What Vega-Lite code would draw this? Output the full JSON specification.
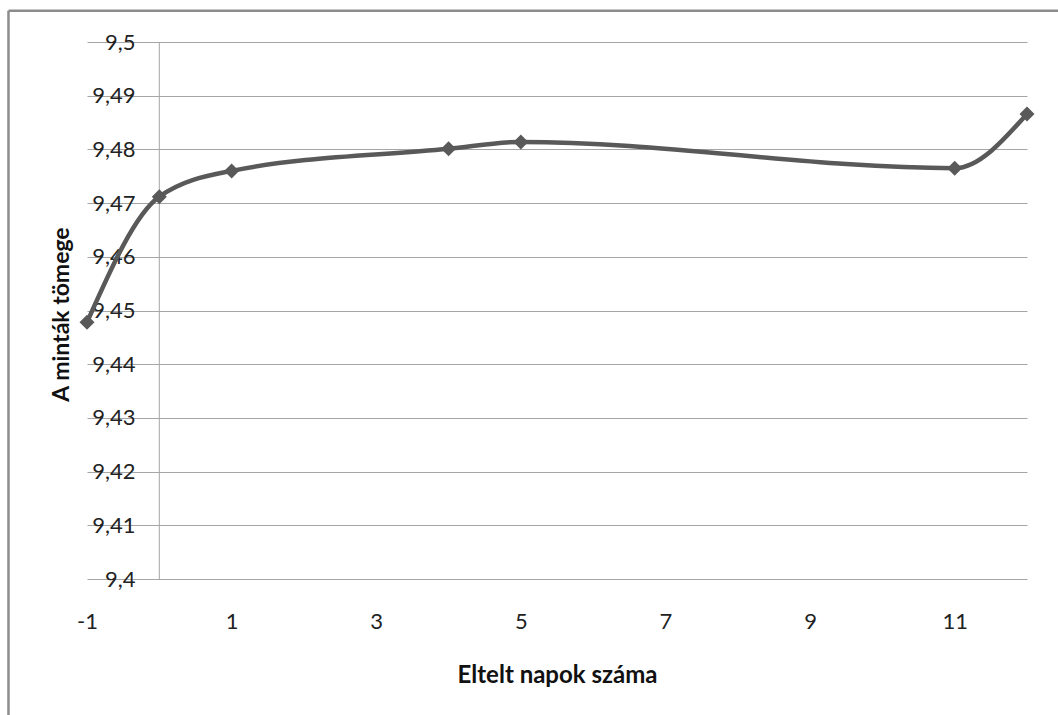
{
  "$schema": "https://vega.github.io/schema/vega-lite/v6.json",
  "width": 940,
  "height": 537,
  "autosize": {"type": "none"},
  "padding": {"left": 87, "top": 42, "right": 31, "bottom": 136},
  "background": "white",
  "config": {
    "locale": {
      "number": {"decimal": ",", "thousands": " ", "grouping": [3], "currency": ["", " Ft"], "minus": "-"}
    },
    "view": {"stroke": null},
    "font": "Lato",
    "axis": {
      "labelColor": "#222222",
      "labelFontSize": 22,
      "labelFont": "Lato",
      "titleColor": "#111111",
      "titleFont": "Lato",
      "titleFontSize": 24,
      "titleFontWeight": "bold",
      "gridColor": "#a6a6a6",
      "gridWidth": 1,
      "gridOpacity": 1,
      "domain": false,
      "ticks": false,
      "tickSize": 0,
      "labelFlush": false
    }
  },
  "data": {
    "values": [
      {"nap": -1, "tomeg": 9.4478},
      {"nap": 0, "tomeg": 9.4712},
      {"nap": 1, "tomeg": 9.4760},
      {"nap": 4, "tomeg": 9.4801},
      {"nap": 5, "tomeg": 9.4814},
      {"nap": 11, "tomeg": 9.4765},
      {"nap": 12, "tomeg": 9.4866}
    ]
  },
  "layer": [
    {
      "data": {"values": [{}]},
      "mark": {"type": "rule", "color": "#8c8c8c", "strokeWidth": 2.5},
      "encoding": {
        "x": {"datum": -2.086, "type": "quantitative"},
        "x2": {"datum": 12.6},
        "y": {"datum": 9.50583, "type": "quantitative"}
      }
    },
    {
      "data": {"values": [{}]},
      "mark": {"type": "rule", "color": "#8c8c8c", "strokeWidth": 2.5},
      "encoding": {
        "x": {"datum": -2.086, "type": "quantitative"},
        "y": {"datum": 9.50583, "type": "quantitative"},
        "y2": {"datum": 9.37}
      }
    },
    {
      "data": {"values": [{}]},
      "mark": {"type": "rule", "color": "#a6a6a6", "strokeWidth": 1},
      "encoding": {
        "x": {"datum": 0, "type": "quantitative"}
      }
    },
    {
      "mark": {
        "type": "line",
        "interpolate": "monotone",
        "color": "#595959",
        "strokeWidth": 4.5
      },
      "encoding": {
        "x": {
          "field": "nap",
          "type": "quantitative",
          "scale": {"domain": [-1, 12], "nice": false, "zero": false},
          "axis": {
            "values": [-1, 1, 3, 5, 7, 9, 11],
            "format": "d",
            "grid": false,
            "labelPadding": 42,
            "labelBaseline": "middle",
            "title": "Eltelt napok száma",
            "titleY": 96,
            "titleBaseline": "middle",
            "titleAlign": "center"
          }
        },
        "y": {
          "field": "tomeg",
          "type": "quantitative",
          "scale": {"domain": [9.4, 9.5], "nice": false, "zero": false},
          "axis": {
            "values": [9.4, 9.41, 9.42, 9.43, 9.44, 9.45, 9.46, 9.47, 9.48, 9.49, 9.5],
            "format": ".2~f",
            "grid": true,
            "labelAlign": "right",
            "labelBaseline": "middle",
            "labelPadding": -48,
            "title": "A minták tömege",
            "titleFontSize": 23,
            "titleAngle": -90,
            "titleX": -26,
            "titleY": 272,
            "titleAlign": "center",
            "titleBaseline": "middle"
          }
        }
      }
    },
    {
      "mark": {
        "type": "point",
        "shape": "diamond",
        "filled": true,
        "size": 225,
        "color": "#595959",
        "opacity": 1
      },
      "encoding": {
        "x": {"field": "nap", "type": "quantitative"},
        "y": {"field": "tomeg", "type": "quantitative"}
      }
    }
  ]
}
